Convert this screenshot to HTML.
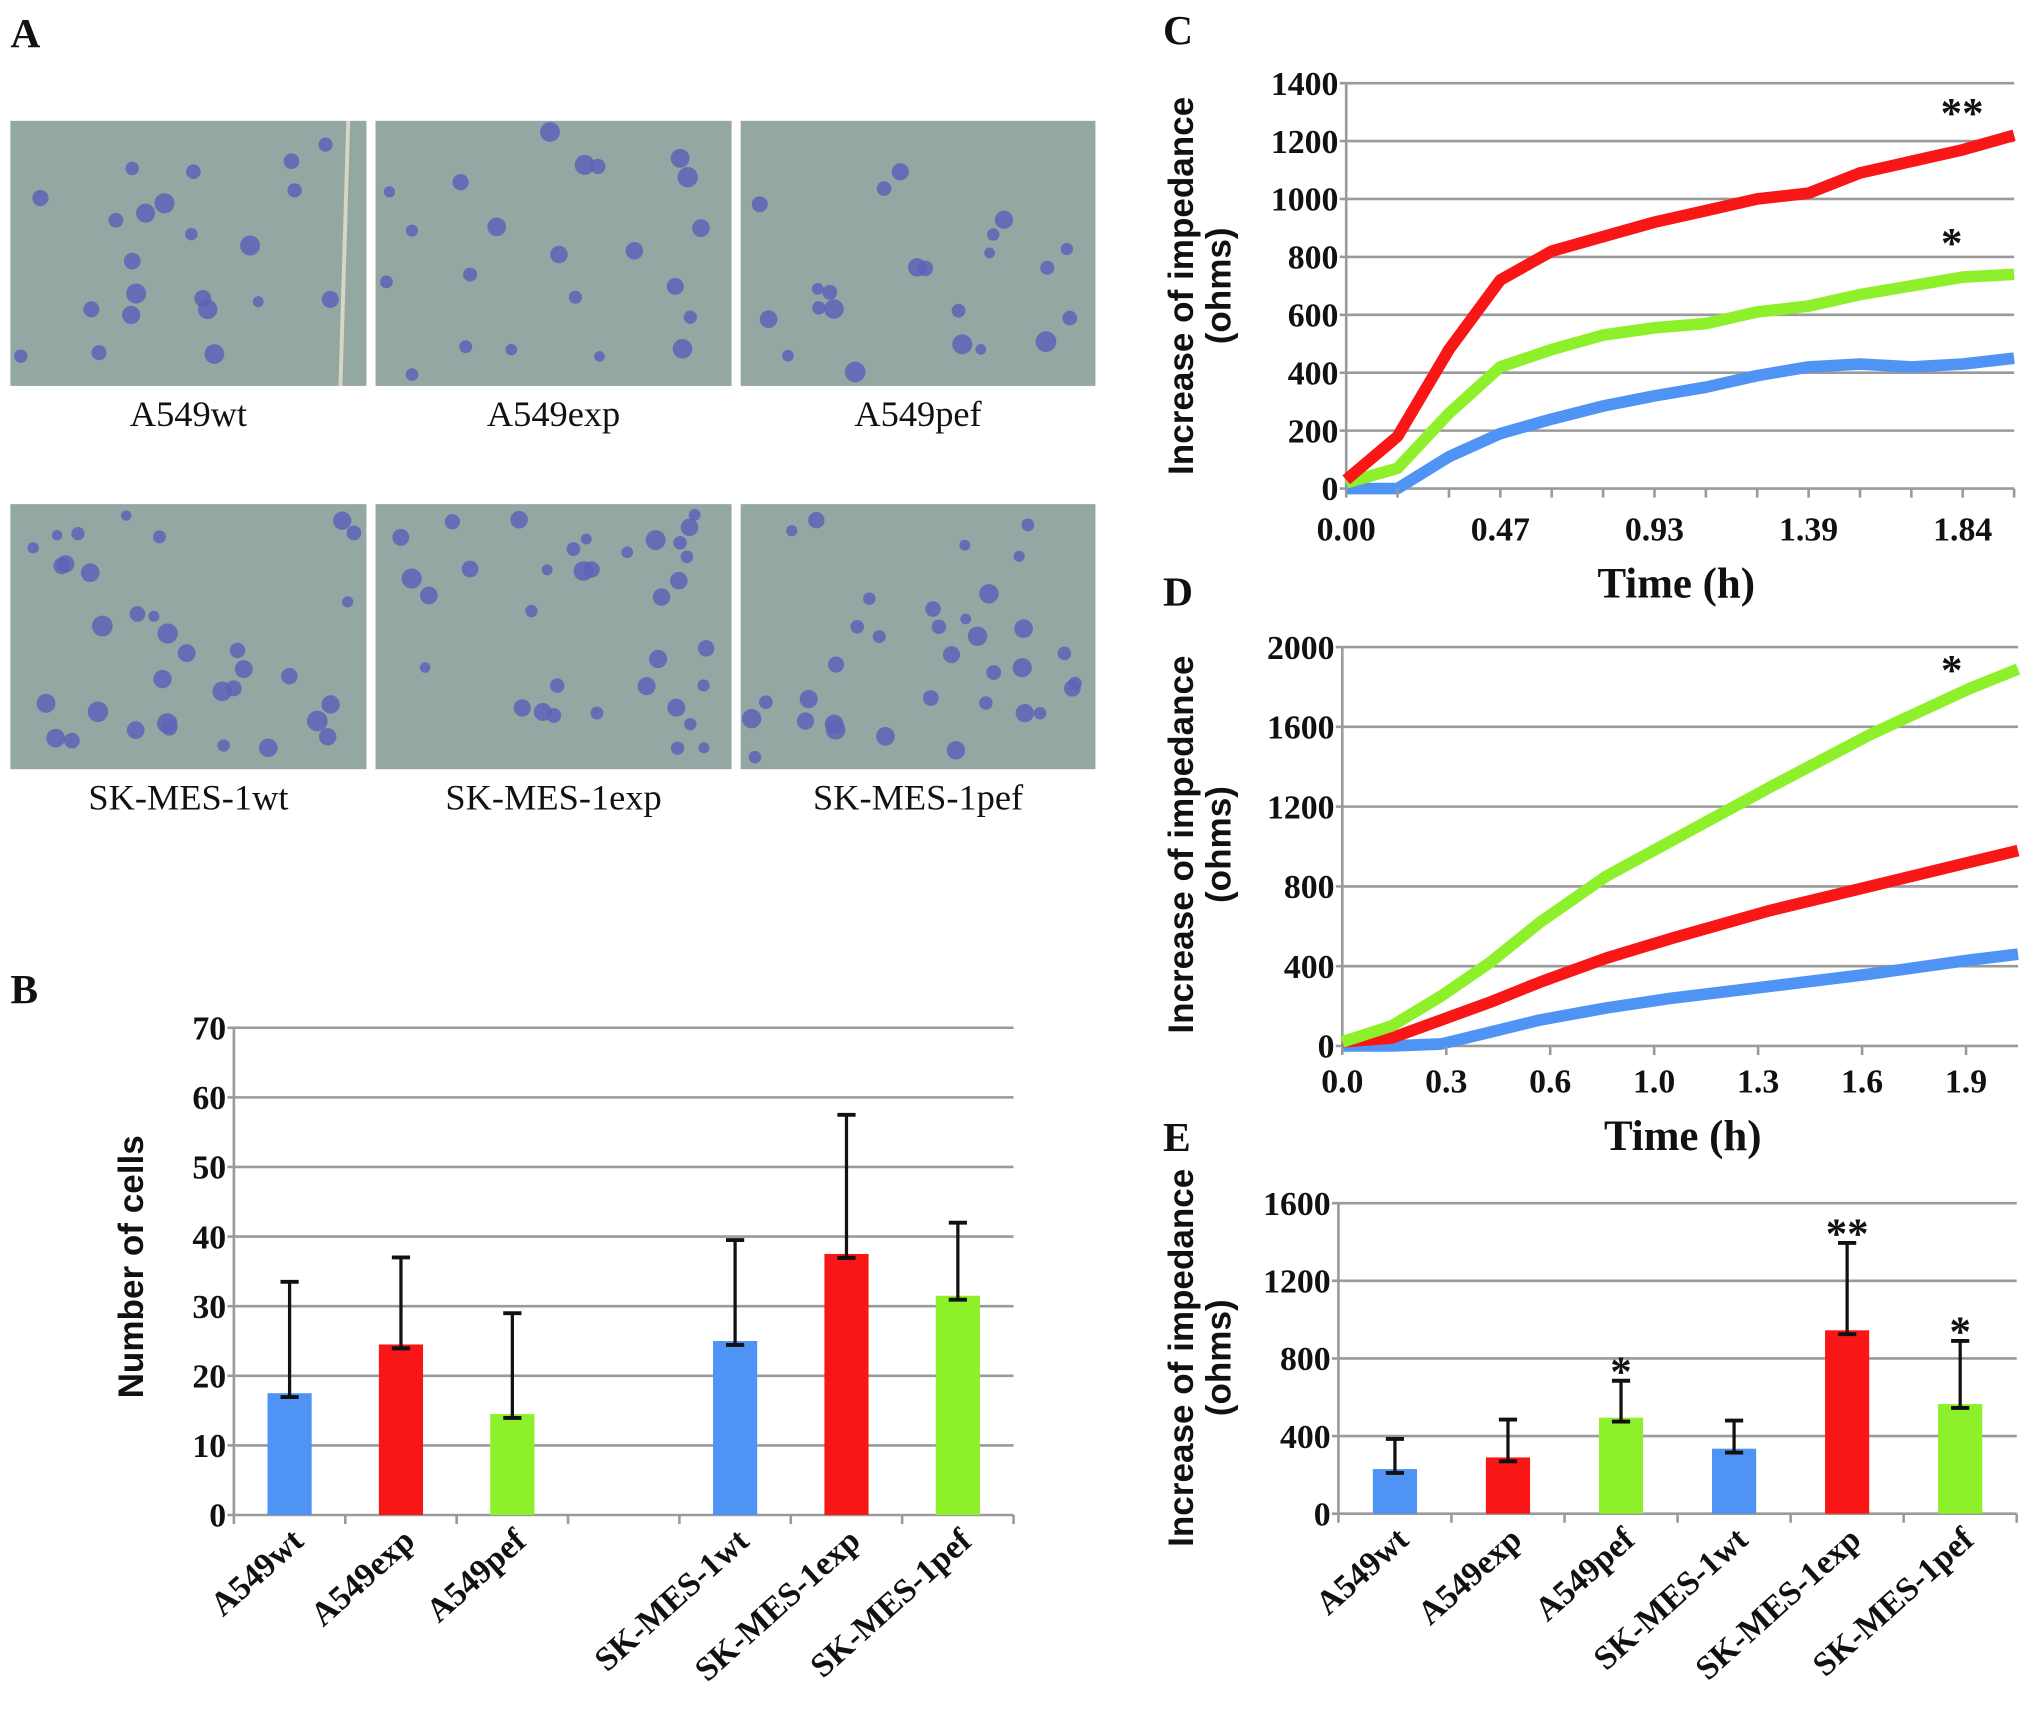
<!DOCTYPE html>
<html><head><meta charset="utf-8"><style>
html,body{margin:0;padding:0;background:#fff;}
svg{display:block;}
.tk{font-family:"Liberation Serif",serif;font-weight:bold;font-size:26px;fill:#111;}
.tt{font-family:"Liberation Sans",sans-serif;font-weight:bold;font-size:27px;fill:#111;}
.lt{font-family:"Liberation Serif",serif;font-weight:bold;font-size:32px;fill:#111;}
.cap{font-family:"Liberation Serif",serif;font-size:28px;fill:#111;}
.xt{font-family:"Liberation Serif",serif;font-weight:bold;font-size:33px;fill:#111;}
</style></head><body>
<svg id="fig" width="2031" height="1719" viewBox="0 0 1563 1323" preserveAspectRatio="none" xmlns="http://www.w3.org/2000/svg">
<g id="panelA"></g>
<g id="panelB"></g>
<g id="panelC"></g>
<g id="panelD"></g>
<g id="panelE"></g>
<text class="lt" x="8" y="36">A</text>
<text class="lt" x="8" y="772">B</text>
<text class="lt" x="895" y="34">C</text>
<text class="lt" x="895" y="466">D</text>
<text class="lt" x="895" y="886">E</text>
</svg>
<script>
// ---- data ----
const barCatsB = ["A549wt","A549exp","A549pef","","SK-MES-1wt","SK-MES-1exp","SK-MES-1pef"];
const barMeansB = [17.5,24.5,14.5,null,25,37.5,31.5];
const barErrB = [16,12.5,14.5,null,14.5,20,10.5];
const barTicksB = [0,10,20,30,40,50,60,70];

const timeC = [0,0.155,0.31,0.465,0.62,0.775,0.93,1.085,1.24,1.395,1.55,1.705,1.86,2.015];
const redC = [30,180,480,720,820,870,920,960,1000,1020,1090,1130,1170,1220];
const greenC = [20,70,260,420,480,530,555,570,610,630,670,700,730,740];
const blueC = [0,0,110,190,240,285,320,350,390,420,430,420,430,450];
const yTicksC = [0,200,400,600,800,1000,1200,1400];
const xTicksC = ["0.00","0.47","0.93","1.39","1.84"];

const timeD = [0,0.15,0.3,0.45,0.6,0.8,1.0,1.3,1.6,1.9,2.05];
const greenD = [20,100,250,420,620,850,1030,1300,1560,1790,1890];
const redD = [20,40,130,220,320,440,540,680,800,920,980];
const blueD = [0,0,10,70,130,190,240,300,360,430,460];
const yTicksD = [0,400,800,1200,1600,2000];
const xTicksD = [0.0,0.3,0.6,1.0,1.3,1.6,1.9];
const xTickLabelsD = ["0.0","0.3","0.6","1.0","1.3","1.6","1.9"];

const barCatsE = ["A549wt","A549exp","A549pef","SK-MES-1wt","SK-MES-1exp","SK-MES-1pef"];
const barMeansE = [230,290,495,335,945,565];
const barErrE = [155,195,190,145,450,325];
const sigE = ["","","*","","**","*"];
const yTicksE = [0,400,800,1200,1600];

const colors = ["#4f94f5","#f91616","#8ef02a"];
const NS="http://www.w3.org/2000/svg";
function mk(parent,tag,attrs,name){const e=document.createElementNS(NS,tag);for(const k in attrs)e.setAttribute(k,attrs[k]);


parent.appendChild(e);return e;}

// ---- Panel A ----
(function(){
 const g=document.getElementById('panelA');
 const cols=[[8,274],[289,274],[570,273]];
 const rows=[[93,204],[388,204]];
 const caps=[["A549wt","A549exp","A549pef"],["SK-MES-1wt","SK-MES-1exp","SK-MES-1pef"]];
 let seed=7;function rnd(){seed=(seed*16807)%2147483647;return seed/2147483647;}
 rows.forEach((r,ri)=>cols.forEach((c,ci)=>{
  mk(g,'rect',{x:c[0],y:r[0],width:c[1],height:r[1],fill:'#93a8a2'},'micrograph-'+caps[ri][ci].toLowerCase());
  const n=ri==0?22:34;
  for(let i=0;i<n;i++){const cx=c[0]+8+rnd()*(c[1]-16),cy=r[0]+8+rnd()*(r[1]-16),rr=4+rnd()*4;
   mk(g,'circle',{cx:cx,cy:cy,r:rr,fill:'#5d63b8',opacity:0.85},'cell');}
  const t=mk(g,'text',{x:c[0]+c[1]/2,y:r[0]+r[1]+31,'text-anchor':'middle',class:'cap'},'caption-'+caps[ri][ci].toLowerCase());
  t.textContent=caps[ri][ci];
 }));
 mk(g,'line',{x1:268,y1:93,x2:262,y2:297,stroke:'#d8d6c4','stroke-width':3},'scratch-line');
})();

function axisFrame(g,x0,x1,y0,y1,ticks,ymax,fmt){
 const ys=v=>y0-(v/ymax)*(y0-y1);
 ticks.forEach(t=>{
  if(t>0) mk(g,'line',{x1:x0,y1:ys(t),x2:x1,y2:ys(t),stroke:'#9a9a9a','stroke-width':2},'gridline');
  const tx=mk(g,'text',{x:x0-6,y:ys(t)+9,'text-anchor':'end',class:'tk'},'y-tick-label');tx.textContent=fmt?fmt(t):t;
  mk(g,'line',{x1:x0-5,y1:ys(t),x2:x0,y2:ys(t),stroke:'#9a9a9a','stroke-width':2},'y-tick');
 });
 mk(g,'line',{x1:x0,y1:y1,x2:x0,y2:y0,stroke:'#9a9a9a','stroke-width':2},'y-axis');
 mk(g,'line',{x1:x0,y1:y0,x2:x1,y2:y0,stroke:'#9a9a9a','stroke-width':2},'x-axis');
 return ys;
}
function ytitle(g,x,cy,lines){
 lines.forEach((l,i)=>{const t=mk(g,'text',{x:0,y:0,transform:`translate(${x+i*29},${cy}) rotate(-90)`,'text-anchor':'middle',class:'tt'},'y-axis-title');t.textContent=l;});
}

function barChart(g,x0,x1,y0,y1,ticks,ymax,cats,means,errs,cols,bw,fontsz){
 const ys=axisFrame(g,x0,x1,y0,y1,ticks,ymax);
 const n=cats.length,sw=(x1-x0)/n;
 for(let i=0;i<=n;i++) mk(g,'line',{x1:x0+i*sw,y1:y0,x2:x0+i*sw,y2:y0+7,stroke:'#9a9a9a','stroke-width':2},'x-tick');
 let ci=0;
 cats.forEach((c,i)=>{
  if(means[i]==null)return;
  const cx=x0+sw*(i+0.5),col=cols[ci%3];ci++;
  mk(g,'rect',{x:cx-bw/2,y:ys(means[i]),width:bw,height:y0-ys(means[i]),fill:col},'bar-'+c.toLowerCase());
  const lo=ys(means[i])+3,hi=ys(means[i]+errs[i]);
  mk(g,'line',{x1:cx,y1:lo,x2:cx,y2:hi,stroke:'#111','stroke-width':2.5},'error-bar');
  mk(g,'line',{x1:cx-7,y1:hi,x2:cx+7,y2:hi,stroke:'#111','stroke-width':3},'error-cap');
  mk(g,'line',{x1:cx-7,y1:lo,x2:cx+7,y2:lo,stroke:'#111','stroke-width':3},'error-cap');
  const t=mk(g,'text',{x:0,y:0,transform:`translate(${cx+12},${y0+22}) rotate(-42)`,'text-anchor':'end',class:'tk','font-size':fontsz},'x-tick-label');t.textContent=c;
 });
 return {ys,sw};
}

// ---- Panel B ----
(function(){
 const g=document.getElementById('panelB');
 barChart(g,180,780,1166,791,barTicksB,70,barCatsB,barMeansB,barErrB,colors,34,27);
 const t=mk(g,'text',{x:0,y:0,transform:'translate(110,975) rotate(-90)','text-anchor':'middle',class:'tt','font-size':33},'y-axis-title');t.textContent='Number of cells';
})();

function lineChart(g,x0,x1,y0,y1,ticks,ymax,xmax,series,times){
 const ys=axisFrame(g,x0,x1,y0,y1,ticks,ymax);
 const xs=v=>x0+v/xmax*(x1-x0);
 series.forEach((s,k)=>{
  const d=s.v.map((v,i)=>(i?'L':'M')+xs(times[i]).toFixed(1)+','+ys(v).toFixed(1)).join(' ');
  mk(g,'path',{d:d,fill:'none',stroke:s.c,'stroke-width':9,'stroke-linejoin':'round'},'line-'+s.n);
 });
 return {ys,xs};
}

// ---- Panel C ----
(function(){
 const g=document.getElementById('panelC');
 const o=lineChart(g,1036,1550,376,64,yTicksC,1400,2.015,[{v:blueC,c:colors[0],n:'wt'},{v:greenC,c:colors[2],n:'pef'},{v:redC,c:colors[1],n:'exp'}],timeC);
 timeC.forEach(t=>mk(g,'line',{x1:o.xs(t),y1:376,x2:o.xs(t),y2:383,stroke:'#9a9a9a','stroke-width':2},'x-tick'));
 xTicksC.forEach((l,i)=>{const t=mk(g,'text',{x:o.xs(timeC[i*3]),y:416,'text-anchor':'middle',class:'tk'},'x-tick-label');t.textContent=l;});
 const xt=mk(g,'text',{x:1290,y:460,'text-anchor':'middle',class:'xt'},'x-axis-title');xt.textContent='Time (h)';
 ytitle(g,918,220,['Increase of impedance','(ohms)']);
 const s1=mk(g,'text',{x:1510,y:98,'text-anchor':'middle',class:'xt'},'significance-exp');s1.textContent='**';
 const s2=mk(g,'text',{x:1502,y:198,'text-anchor':'middle',class:'xt'},'significance-pef');s2.textContent='*';
})();

// ---- Panel D ----
(function(){
 const g=document.getElementById('panelD');
 const o=lineChart(g,1033,1553,805,498,yTicksD,2000,2.05,[{v:blueD,c:colors[0],n:'wt'},{v:redD,c:colors[1],n:'exp'},{v:greenD,c:colors[2],n:'pef'}],timeD);
 xTickLabelsD.forEach((l,i)=>{const x=1033+i*80;
  mk(g,'line',{x1:x,y1:805,x2:x,y2:812,stroke:'#9a9a9a','stroke-width':2},'x-tick');
  const t=mk(g,'text',{x:x,y:841,'text-anchor':'middle',class:'tk'},'x-tick-label');t.textContent=l;});
 const xt=mk(g,'text',{x:1295,y:885,'text-anchor':'middle',class:'xt'},'x-axis-title');xt.textContent='Time (h)';
 ytitle(g,918,650,['Increase of impedance','(ohms)']);
 const s=mk(g,'text',{x:1502,y:527,'text-anchor':'middle',class:'xt'},'significance-pef');s.textContent='*';
})();

// ---- Panel E ----
(function(){
 const g=document.getElementById('panelE');
 const o=barChart(g,1030,1552,1165,926,yTicksE,1600,barCatsE,barMeansE,barErrE,colors,34,25);
 sigE.forEach((s,i)=>{if(!s)return;const cx=1030+o.sw*(i+0.5);
  const t=mk(g,'text',{x:cx,y:o.ys(barMeansE[i]+barErrE[i])+4,'text-anchor':'middle',class:'xt'},'significance-star');t.textContent=s;});
 ytitle(g,918,1045,['Increase of impedance','(ohms)']);
})();
</script>
</body></html>
